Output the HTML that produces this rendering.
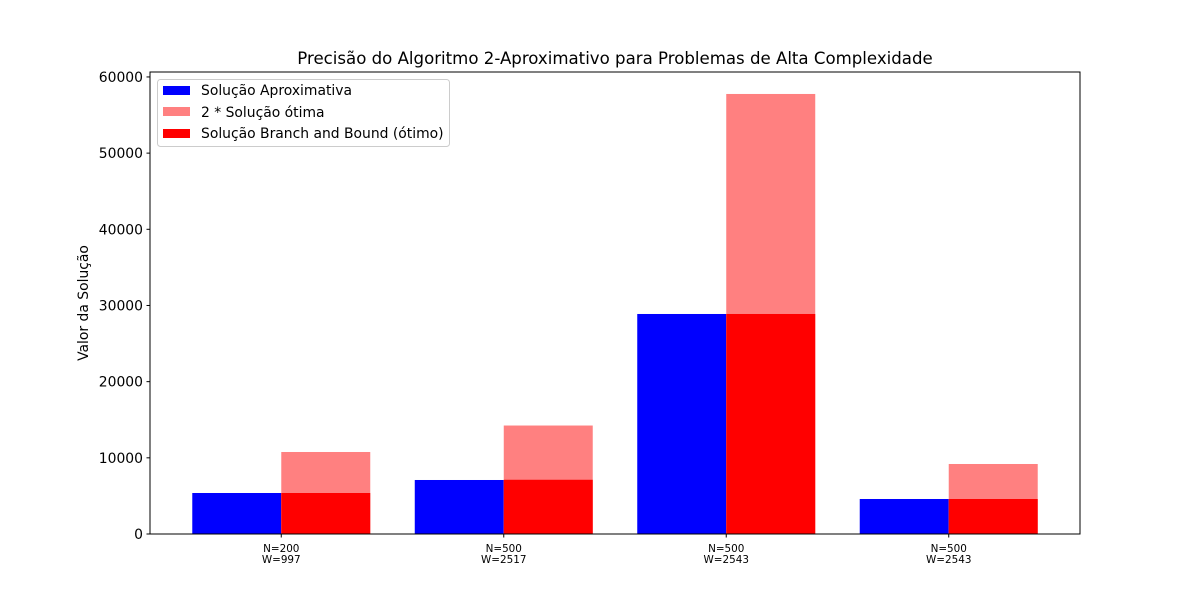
<!DOCTYPE html>
<html><head><meta charset="utf-8"><style>
body{margin:0;background:#fff;}
svg text{font-family:"DejaVu Sans","Liberation Sans",sans-serif;fill:#000;}
</style></head><body>
<svg id="chart" width="1200" height="600" xmlns="http://www.w3.org/2000/svg">
<rect width="1200" height="600" fill="#fff"/>
<text x="615" y="64" font-size="16.6" text-anchor="middle">Precisão do Algoritmo 2-Aproximativo para Problemas de Alta Complexidade</text>
<text transform="translate(88,303) rotate(-90)" font-size="13.9" text-anchor="middle">Valor da Solução</text>
<g id="bars"></g>
<g id="yticks"></g>
<g id="xticks"></g>
<rect x="150" y="72" width="930" height="462" fill="none" stroke="#000" stroke-width="1"/>
<g>
<rect x="157.5" y="79.5" width="292" height="67" rx="3" fill="#fff" fill-opacity="0.8" stroke="#ccc"/>
<rect x="163" y="86" width="27" height="9" fill="#0000ff"/>
<text x="201" y="95" font-size="13.9">Solução Aproximativa</text>
<rect x="163" y="107" width="27" height="9" fill="#ff8080"/>
<text x="201" y="117" font-size="13.9">2 * Solução ótima</text>
<rect x="163" y="129" width="27" height="9" fill="#ff0000"/>
<text x="201" y="138" font-size="13.9">Solução Branch and Bound (ótimo)</text>
</g>
</svg>
<script>
const categoriesN = ["N=200","N=500","N=500","N=500"];
const categoriesW = ["W=997","W=2517","W=2543","W=2543"];
const approxValues = [5383, 7090, 28883, 4595];
const optimalValues = [5383, 7120, 28883, 4595];
const yTicks = [0,10000,20000,30000,40000,50000,60000];

const NS = "http://www.w3.org/2000/svg";
const X0=150, X1=1080, Y0=534, Y1=72;
const xMin=-0.59, xMax=3.59, yMin=0, yMax=60650;
function xs(v){return X0+(v-xMin)/(xMax-xMin)*(X1-X0);}
function ys(v){return Y0-(v-yMin)/(yMax-yMin)*(Y0-Y1);}
function mk(tag, attrs, parent){const e=document.createElementNS(NS,tag);for(const k in attrs)e.setAttribute(k,attrs[k]);parent.appendChild(e);return e;}
const bars=document.getElementById('bars');
const bw=0.4;
approxValues.forEach((v,i)=>{
  let r=mk('rect',{x:xs(i-bw),y:ys(v),width:xs(i)-xs(i-bw),height:ys(0)-ys(v),fill:'#0000ff'},bars);
  
  
});
optimalValues.forEach((v,i)=>{
  let d=2*v;
  let r=mk('rect',{x:xs(i),y:ys(d),width:xs(i+bw)-xs(i),height:ys(0)-ys(d),fill:'#ff8080'},bars);
  
  
  let r2=mk('rect',{x:xs(i),y:ys(v),width:xs(i+bw)-xs(i),height:ys(0)-ys(v),fill:'#ff0000'},bars);
  
  
});
const yt=document.getElementById('yticks');
yTicks.forEach(t=>{
  let y=ys(t);
  let l=mk('line',{x1:X0-3.5,x2:X0,y1:y,y2:y,stroke:'#000'},yt);
  
  
  let tx=mk('text',{x:X0-7,y:y+5,'font-size':13.9,'text-anchor':'end'},yt);
  tx.textContent=t;
  
  
});
const xt=document.getElementById('xticks');
categoriesN.forEach((c,i)=>{
  let x=xs(i);
  let l=mk('line',{x1:x,x2:x,y1:Y0,y2:Y0+3.5,stroke:'#000'},xt);
  
  
  let t1=mk('text',{x:x,y:552,'font-size':10.4,'text-anchor':'middle'},xt);
  t1.textContent=c;
  
  
  let t2=mk('text',{x:x,y:563,'font-size':10.4,'text-anchor':'middle'},xt);
  t2.textContent=categoriesW[i];
  
  
});
</script>
</body></html>
